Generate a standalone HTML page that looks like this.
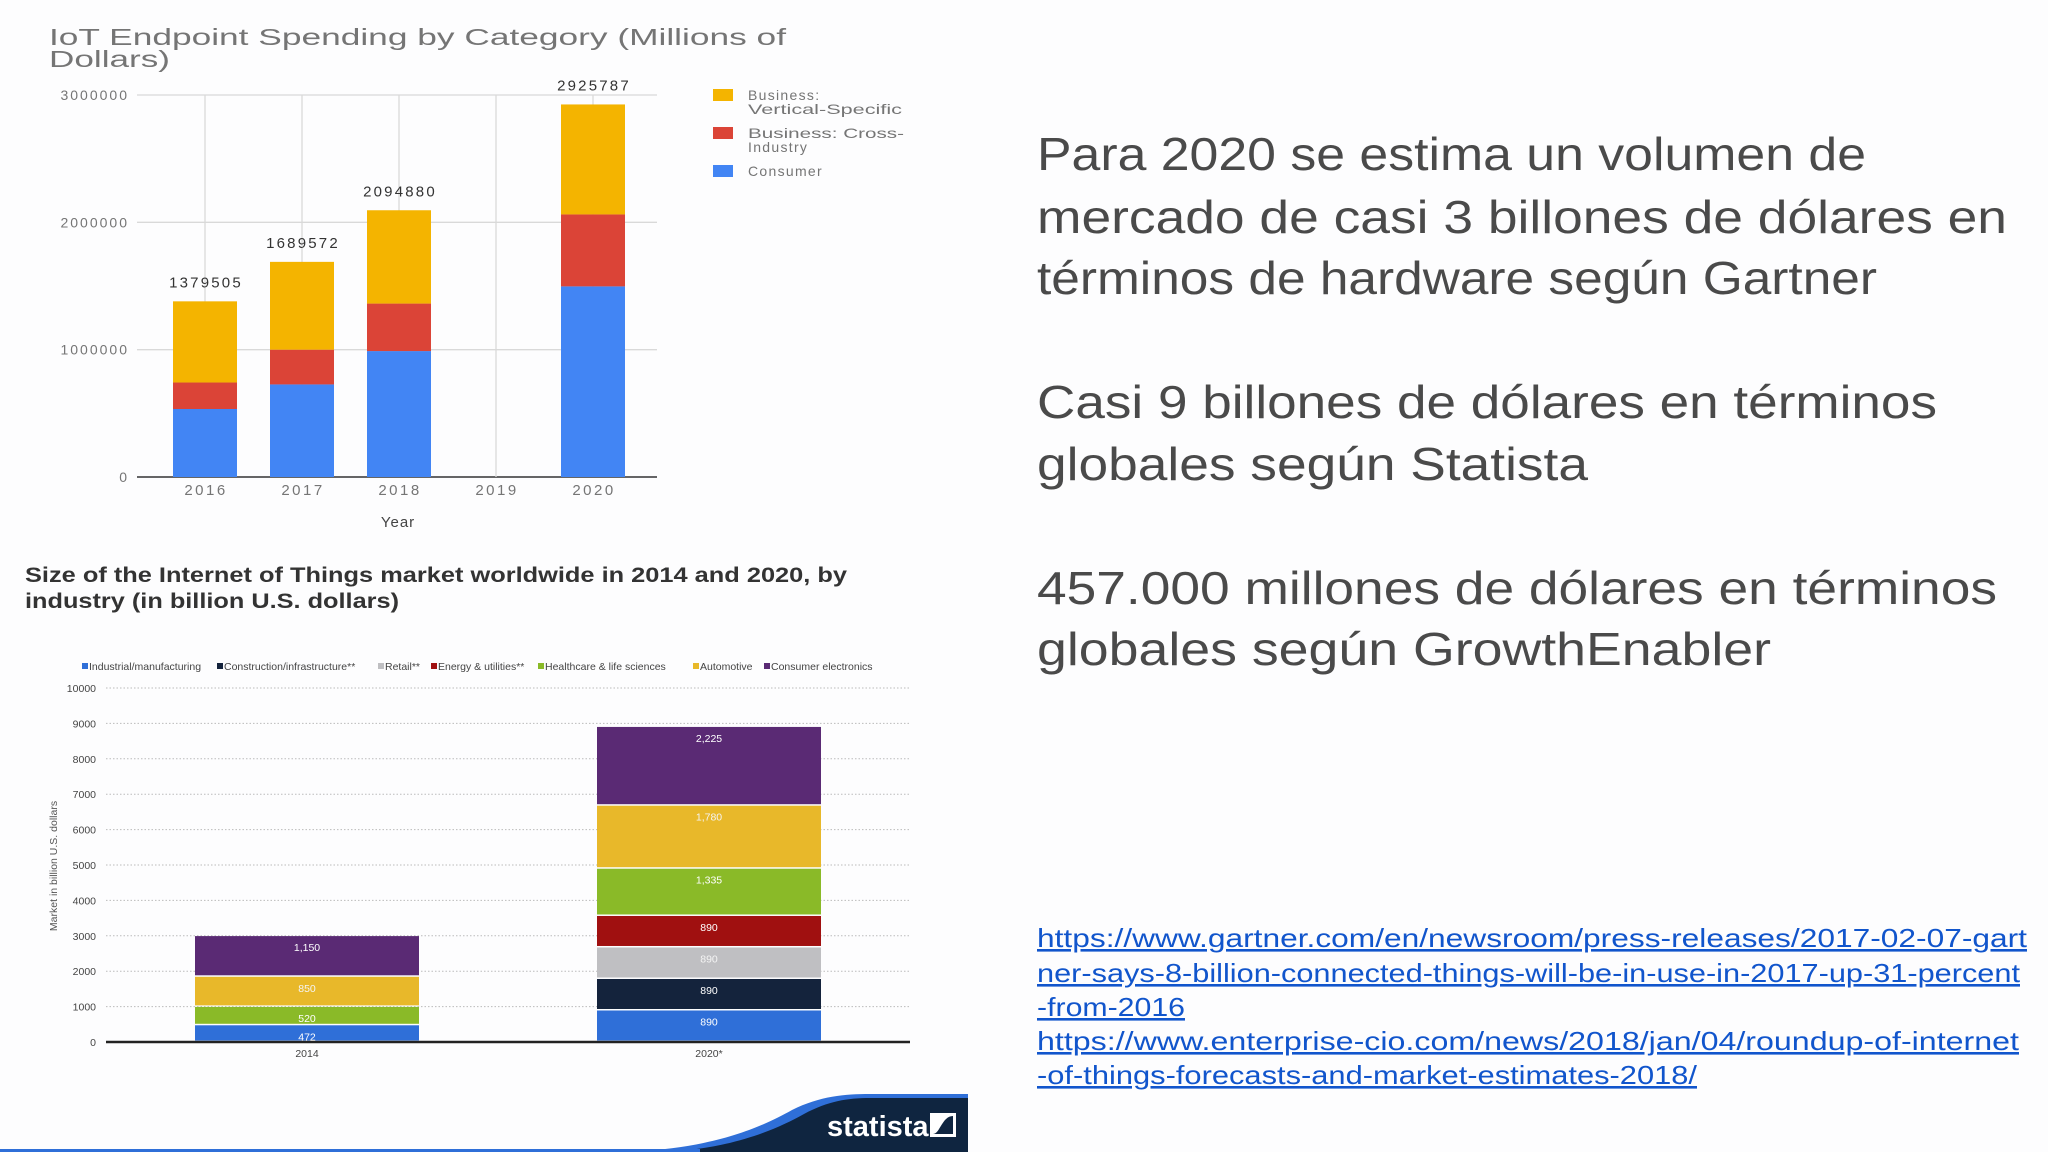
<!DOCTYPE html>
<html><head><meta charset="utf-8"><style>
html,body{margin:0;padding:0;background:#fdfdfe;}
svg{display:block;}
text{font-family:"Liberation Sans",sans-serif;}
</style></head><body>
<svg id="page" width="2048" height="1152" viewBox="0 0 2048 1152" xmlns="http://www.w3.org/2000/svg">
<rect x="0" y="0" width="2048" height="1152" fill="#fdfdfe"/>
<g id="top-chart">
  <text x="49" y="45" font-size="23" fill="#757575" textLength="737" lengthAdjust="spacingAndGlyphs">IoT Endpoint Spending by Category (Millions of</text>
  <text x="49" y="67" font-size="23" fill="#757575" textLength="121" lengthAdjust="spacingAndGlyphs">Dollars)</text>
  <g id="top-grid"></g><g id="top-bars"></g>
  <text x="398" y="527" font-size="15" fill="#444" text-anchor="middle" letter-spacing="1">Year</text>
  <g>
    <rect x="713" y="89" width="20" height="12" fill="#F4B400"/>
    <text x="748" y="100" font-size="14" fill="#757575" letter-spacing="1.3">Business:</text>
    <text x="748" y="114" font-size="14" fill="#757575" textLength="154" lengthAdjust="spacingAndGlyphs">Vertical-Specific</text>
    <rect x="713" y="127" width="20" height="12" fill="#DB4437"/>
    <text x="748" y="138" font-size="14" fill="#757575" textLength="156" lengthAdjust="spacingAndGlyphs">Business: Cross-</text>
    <text x="748" y="152" font-size="14" fill="#757575" letter-spacing="1.3">Industry</text>
    <rect x="713" y="165" width="20" height="12" fill="#4285F4"/>
    <text x="748" y="176" font-size="14" fill="#757575" letter-spacing="1.3">Consumer</text>
  </g>
</g>
<g id="bottom-chart">
  <text x="25" y="582" font-size="21.5" font-weight="bold" fill="#333" textLength="822" lengthAdjust="spacingAndGlyphs">Size of the Internet of Things market worldwide in 2014 and 2020, by</text>
  <text x="25" y="608" font-size="21.5" font-weight="bold" fill="#333" textLength="374" lengthAdjust="spacingAndGlyphs">industry (in billion U.S. dollars)</text>
  <g id="bot-legend"></g><g id="bot-grid"></g><g id="bot-bars"></g>
  <text transform="translate(57,866) rotate(-90)" font-size="10.5" fill="#555" text-anchor="middle">Market in billion U.S. dollars</text>
</g>
<g>
  <path d="M640 1152 C720 1150 770 1130 800 1112 C825 1099 845 1097 870 1097 L968 1097 L968 1152 Z" fill="#0f2540"/>
  <path d="M620 1152 C710 1150 760 1128 792 1110 C820 1096 845 1094 870 1094 L968 1094 L968 1098 L870 1098 C848 1098 828 1101 804 1114 C772 1132 725 1150 660 1152 Z" fill="#2f6fd8"/>
  <rect x="0" y="1149" width="700" height="3" fill="#2f6fd8"/>
  <text x="827" y="1136" font-size="29" font-weight="bold" fill="#fff">statista</text>
  <path d="M930 1113 h26 v24 h-26 z" fill="#fff"/>
  <path d="M933 1134 C940 1134 942 1116 953 1116 L953 1134 Z" fill="#0f2540"/>
</g>
<g font-size="46" fill="#4a4a4a">
  <text x="1037" y="170" textLength="829" lengthAdjust="spacingAndGlyphs">Para 2020 se estima un volumen de</text>
  <text x="1037" y="233" textLength="970" lengthAdjust="spacingAndGlyphs">mercado de casi 3 billones de dólares en</text>
  <text x="1037" y="294" textLength="840" lengthAdjust="spacingAndGlyphs">términos de hardware según Gartner</text>
  <text x="1037" y="418" textLength="900" lengthAdjust="spacingAndGlyphs">Casi 9 billones de dólares en términos</text>
  <text x="1037" y="480" textLength="551" lengthAdjust="spacingAndGlyphs">globales según Statista</text>
  <text x="1037" y="604" textLength="960" lengthAdjust="spacingAndGlyphs">457.000 millones de dólares en términos</text>
  <text x="1037" y="665" textLength="734" lengthAdjust="spacingAndGlyphs">globales según GrowthEnabler</text>
</g>
<g font-size="26" fill="#1155cc" text-decoration="underline">
  <text x="1037" y="947" textLength="990" lengthAdjust="spacingAndGlyphs">https://www.gartner.com/en/newsroom/press-releases/2017-02-07-gart</text>
  <text x="1037" y="982" textLength="983" lengthAdjust="spacingAndGlyphs">ner-says-8-billion-connected-things-will-be-in-use-in-2017-up-31-percent</text>
  <text x="1037" y="1016" textLength="148" lengthAdjust="spacingAndGlyphs">-from-2016</text>
  <text x="1037" y="1050" textLength="982" lengthAdjust="spacingAndGlyphs">https://www.enterprise-cio.com/news/2018/jan/04/roundup-of-internet</text>
  <text x="1037" y="1084" textLength="660" lengthAdjust="spacingAndGlyphs">-of-things-forecasts-and-market-estimates-2018/</text>
</g>
</svg>
<script>
const NS = "http://www.w3.org/2000/svg";
// ---- Top chart data ----
const topYears = ["2016","2017","2018","2019","2020"];
const topConsumer = [534000, 727000, 989000, 0, 1497000];
const topCross = [208000, 273000, 373000, 0, 565000];
const topVertical = [637505, 689572, 732880, 0, 863787];
const topTotals = ["1379505","1689572","2094880","","2925787"];
const topTicks = [0, 1000000, 2000000, 3000000];
// ---- Bottom chart data ----
const botYears = ["2014","2020*"];
const botSeries = ["Industrial/manufacturing","Construction/infrastructure**","Retail**","Energy & utilities**","Healthcare & life sciences","Automotive","Consumer electronics"];
const botIndustrial = [472, 890];
const botConstruction = [0, 890];
const botRetail = [0, 890];
const botEnergy = [0, 890];
const botHealthcare = [520, 1335];
const botAutomotive = [850, 1780];
const botConsumer = [1150, 2225];
const botTicks = [0,1000,2000,3000,4000,5000,6000,7000,8000,9000,10000];

function mk(tag, attrs, parent){const e=document.createElementNS(NS,tag);for(const k in attrs)e.setAttribute(k,attrs[k]);parent.appendChild(e);return e;}

const tY = v => 477 - v * (477-95)/3000000;
const tX = i => 205 + i * 97;
const tg = document.getElementById('top-grid');
topTicks.forEach(v=>{
  const l=mk('line',{x1:137,x2:657,y1:tY(v),y2:tY(v),stroke:v===0?'#333':'#d9d9d9','stroke-width':v===0?1.5:1.3},tg);
  
  
  const t=mk('text',{x:129,y:tY(v)+5,'font-size':14,fill:'#757575','text-anchor':'end','letter-spacing':'2'},tg);
  t.textContent=String(v);
  
  
});
topYears.forEach((y,i)=>{
  const l=mk('line',{x1:tX(i),x2:tX(i),y1:95,y2:477,stroke:'#d9d9d9','stroke-width':1.3},tg);
  
  
  const t=mk('text',{x:tX(i)+1,y:495,'font-size':15,fill:'#757575','text-anchor':'middle','letter-spacing':'2.5'},tg);
  t.textContent=y;
  
  
});
const tb=document.getElementById('top-bars');
const topStack=[[topConsumer,'#4285F4','consumer'],[topCross,'#DB4437','cross-industry'],[topVertical,'#F4B400','vertical-specific']];
topYears.forEach((y,i)=>{
  let base=0;
  topStack.forEach(([arr,c,n])=>{
    const v=arr[i]; if(!v) return;
    const r=mk('rect',{x:tX(i)-32,width:64,y:tY(base+v),height:tY(base)-tY(base+v),fill:c},tb);
    
    
    base+=v;
  });
  if(topTotals[i]){
    const t=mk('text',{x:tX(i)+1,y:tY(base)-14,'font-size':15,fill:'#333','text-anchor':'middle','letter-spacing':'2.2'},tb);
    t.textContent=topTotals[i];
    
    
  }
});

const bY = v => 1042 - v*(1042-688)/10000;
const bX = i => 307 + i*402;
const botColors=['#2f6fd8','#14233c','#bfbfc2','#a01010','#8aba28','#e8b82a','#5a2a74'];
const bl=document.getElementById('bot-legend');
let lx=82;
const legW=[128,154,46,100,148,64,118];
botSeries.forEach((s,i)=>{
  const r=mk('rect',{x:lx,y:663,width:6,height:6,fill:botColors[i]},bl);
  
  
  const t=mk('text',{x:lx+7,y:670,'font-size':10.5,fill:'#444'},bl);
  t.textContent=s;
  
  
  lx+=legW[i]+7;
});
const bg=document.getElementById('bot-grid');
botTicks.forEach(v=>{
  const l=mk('line',{x1:106,x2:910,y1:bY(v),y2:bY(v),stroke:v===0?'#222':'#bbb','stroke-width':v===0?2.5:1,'stroke-dasharray':v===0?'none':'1.5 2'},bg);
  
  
  const t=mk('text',{x:96,y:bY(v)+4,'font-size':10.5,fill:'#444','text-anchor':'end'},bg);
  t.textContent=String(v);
  
  
});
const bb=document.getElementById('bot-bars');
const botStack=[botIndustrial,botConstruction,botRetail,botEnergy,botHealthcare,botAutomotive,botConsumer];
const lightLabel=[false,false,true,false,false,true,false];
botYears.forEach((y,i)=>{
  let base=0;
  botStack.forEach((arr,k)=>{
    const v=arr[i]; if(!v) return;
    const r=mk('rect',{x:bX(i)-112,width:224,y:bY(base+v),height:bY(base)-bY(base+v)-1.5,fill:botColors[k]},bb);
    
    
    const t=mk('text',{x:bX(i),y:bY(base+v)+15,'font-size':10.5,fill:lightLabel[k]?'#f4f4f4':'#fff','text-anchor':'middle'},bb);
    t.textContent=v.toLocaleString('en-US');
    
    
    base+=v;
  });
  const t=mk('text',{x:bX(i),y:1057,'font-size':10.5,fill:'#444','text-anchor':'middle'},bb);
  t.textContent=y;
  
  
});
</script>
</body></html>
